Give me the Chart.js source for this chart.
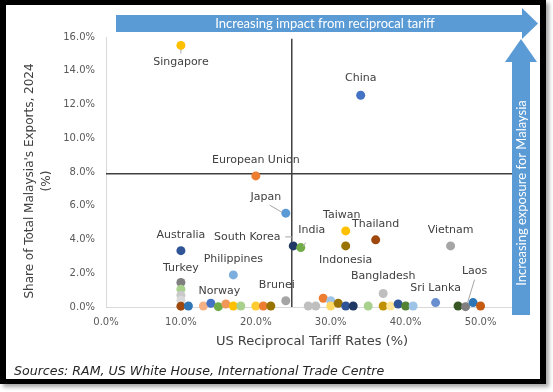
<!DOCTYPE html>
<html>
<head>
<meta charset="utf-8">
<script src="https://cdn.jsdelivr.net/npm/chart.js@4.4.1/dist/chart.umd.min.js"></script>
<style>
  html, body { margin: 0; padding: 0; background: #fff; }
  canvas { display: block; }
</style>
</head>
<body>
<canvas id="chart" width="553" height="392"></canvas>
<script>
// values
const countries = [
  "Singapore", "China", "European Union", "Japan", "Australia", "South Korea", "India",
  "Taiwan", "Indonesia", "Thailand", "Vietnam", "Philippines", "Turkey",
  "", "", "", "", "", "", "", "Norway", "", "", "", "", "", "", "Brunei",
  "", "", "", "", "", "", "", "", "", "Bangladesh", "", "", "", "", "", "Sri Lanka",
  "", "Laos", "", ""
];
const tariffRates = [
  10, 34, 20, 24, 10, 25, 26,
  32, 32, 36, 46, 17, 10,
  10, 10, 10, 10, 11, 13, 14, 15, 16, 17, 18, 20, 21, 22, 24,
  27, 28, 29, 30, 30, 31, 32, 33, 35, 37, 37, 38, 39, 40, 41, 44,
  47, 48, 49, 50
];
const exportShares = [
  15.5, 12.55, 7.77, 5.56, 3.34, 3.62, 3.52,
  4.51, 3.62, 3.98, 3.62, 1.9, 1.45,
  1.05, 0.7, 0.4, 0.05, 0.06, 0.06, 0.22, 0.02, 0.18, 0.06, 0.06, 0.06, 0.06, 0.06, 0.37,
  0.06, 0.06, 0.52, 0.37, 0.06, 0.22, 0.06, 0.06, 0.06, 0.8, 0.06, 0.06, 0.18, 0.06, 0.06, 0.26,
  0.06, 0.02, 0.26, 0.06
];
const pointColors = [
  "#FFC000", "#4472C4", "#ED7D31", "#5B9BD5", "#2F5597", "#203864", "#70AD47",
  "#FFC000", "#997300", "#9E480E", "#A5A5A5", "#7CAFDD", "#7F7F7F",
  "#A9D18E", "#C9C9C9", "#D9D9D9", "#9E480E", "#2E75B6", "#F4B183", "#4472C4", "#70AD47",
  "#F1975A", "#FFC000", "#A9D18E", "#FFCD33", "#ED7D31", "#997300", "#A5A5A5",
  "#BFBFBF", "#BFBFBF", "#ED7D31", "#9DC3E6", "#FFD966", "#997300", "#2F5597", "#203864",
  "#A9D18E", "#BFBFBF", "#BF9000", "#FFE699", "#2F5597", "#548235", "#9DC3E6", "#698ED0",
  "#375623", "#7F7F7F", "#2E75B6", "#C55A11"
];
const xTicks = [0, 10, 20, 30, 40, 50];
const refTariff = [24.8, 24.8];
const refTariffSpan = [0, 15.9];
const refShare = [7.9, 7.9];
const refShareSpan = [0, 55];
const yTitle = ["Share of Total Malaysia's Exports, 2024", "(%)"];

// label placement relative to each point (pixels)
const labelOffsets = {
  "Singapore": [0, 17], "China": [0, -17], "European Union": [0, -16], "Japan": [-20, -16],
  "Australia": [0, -15], "South Korea": [-46, -9], "India": [11, -17], "Taiwan": [-4, -16],
  "Thailand": [0, -16], "Vietnam": [0, -16], "Indonesia": [0, 14], "Philippines": [0, -16],
  "Turkey": [0, -14], "Norway": [1, -16], "Brunei": [-9, -16], "Bangladesh": [0, -17],
  "Sri Lanka": [0, -14], "Laos": [9, -36]
};
const leaderLines = {
  "Singapore": [[0, 4], [0, 8]],
  "Japan": [[-16, -8], [-4, -1]],
  "South Korea": [[-8, -9], [-1, -9], [-1, -4]],
  "India": [[5, -5], [2, -1]],
  "Laos": [[9, -27], [2, -4]]
};

const pct = v => v.toFixed(1) + "%";

const decor = {
  id: "decor",
  beforeDraw(chart) {
    const ctx = chart.ctx;
    ctx.save();
    ctx.fillStyle = "#fff";
    ctx.fillRect(0, 0, 553, 392);
    ctx.shadowColor = "rgba(0,0,0,0.35)";
    ctx.shadowBlur = 4;
    ctx.shadowOffsetX = 3;
    ctx.shadowOffsetY = 3;
    ctx.fillStyle = "#000";
    ctx.fillRect(0, 0, 546, 384);
    ctx.restore();
    ctx.fillStyle = "#fff";
    ctx.fillRect(6, 5, 534, 374);
  },
  afterDatasetsDraw(chart) {
    const ctx = chart.ctx;
    const meta = chart.getDatasetMeta(0);
    ctx.save();
    ctx.font = "11px 'DejaVu Sans'";
    ctx.textAlign = "center";
    ctx.textBaseline = "middle";
    countries.forEach((name, i) => {
      if (!name) return;
      const p = meta.data[i];
      const lead = leaderLines[name];
      if (lead) {
        ctx.strokeStyle = "#A6A6A6";
        ctx.lineWidth = 1;
        ctx.beginPath();
        lead.forEach(([dx, dy], k) => {
          if (k === 0) ctx.moveTo(p.x + dx, p.y + dy);
          else ctx.lineTo(p.x + dx, p.y + dy);
        });
        ctx.stroke();
      }
      const [ox, oy] = labelOffsets[name] || [0, -15];
      ctx.fillStyle = "#404040";
      ctx.fillText(name, p.x + ox, p.y + oy);
    });
    ctx.restore();

    // y axis title, two centred lines
    ctx.save();
    ctx.fillStyle = "#404040";
    ctx.font = "12px 'DejaVu Sans'";
    ctx.textAlign = "center";
    ctx.textBaseline = "middle";
    ctx.translate(30, 181);
    ctx.rotate(-Math.PI / 2);
    ctx.fillText(yTitle[0], 0, 0);
    ctx.fillText(yTitle[1], 0, 17);
    ctx.restore();
  },
  afterDraw(chart) {
    const ctx = chart.ctx;
    ctx.save();
    ctx.fillStyle = "#5B9BD5";
    // vertical arrow
    ctx.fillRect(512, 62, 18, 253);
    ctx.beginPath();
    ctx.moveTo(505, 62); ctx.lineTo(521, 39); ctx.lineTo(537, 62); ctx.closePath();
    ctx.fill();
    // horizontal arrow
    ctx.fillRect(116, 15, 406, 17);
    ctx.beginPath();
    ctx.moveTo(522, 8); ctx.lineTo(538, 23.5); ctx.lineTo(522, 39); ctx.closePath();
    ctx.fill();

    ctx.fillStyle = "#fff";
    ctx.font = "13px Lato";
    ctx.textAlign = "center";
    ctx.textBaseline = "middle";
    ctx.fillText("Increasing impact from reciprocal tariff", 325, 24);
    ctx.translate(521, 193);
    ctx.rotate(-Math.PI / 2);
    ctx.fillText("Increasing exposure for Malaysia", 0, 1);
    ctx.restore();

    ctx.save();
    ctx.fillStyle = "#262626";
    ctx.font = "italic 12.6px 'DejaVu Sans'";
    ctx.textBaseline = "middle";
    ctx.fillText("Sources: RAM, US White House, International Trade Centre", 14, 372);
    ctx.restore();
  }
};

new Chart(document.getElementById("chart"), {
  type: "scatter",
  data: {
    datasets: [
      {
        data: tariffRates.map((x, i) => ({ x: x, y: exportShares[i] })),
        pointBackgroundColor: pointColors,
        pointBorderWidth: 0,
        pointRadius: 4.5,
        pointHoverRadius: 4.5,
        clip: false,
        order: 0
      },
      {
        data: refTariff.map((x, i) => ({ x: x, y: refTariffSpan[i] })),
        showLine: true,
        borderColor: "#404040",
        borderWidth: 1.5,
        pointRadius: 0,
        order: 1
      },
      {
        data: refShareSpan.map((x, i) => ({ x: x, y: refShare[i] })),
        showLine: true,
        borderColor: "#404040",
        borderWidth: 1.5,
        pointRadius: 0,
        order: 1
      }
    ]
  },
  options: {
    responsive: false,
    animation: false,
    layout: { padding: { left: 0, right: 35, top: 37, bottom: 40 } },
    plugins: { legend: { display: false }, tooltip: { enabled: false } },
    scales: {
      x: {
        type: "linear",
        min: 0,
        max: 55,
        afterBuildTicks: s => { s.ticks = xTicks.map(v => ({ value: v })); },
        afterFit: s => { s.height = 45; },
        grid: { display: false, drawTicks: false },
        border: { display: true, color: "#D9D9D9", width: 1 },
        ticks: {
          callback: pct,
          color: "#595959",
          padding: 9,
          maxRotation: 0,
          font: { family: "DejaVu Sans", size: 10 }
        },
        title: {
          display: true,
          text: "US Reciprocal Tariff Rates (%)",
          color: "#404040",
          padding: { top: 0, bottom: 3 },
          font: { family: "DejaVu Sans", size: 13 }
        }
      },
      y: {
        min: 0,
        max: 16,
        afterFit: s => { s.width = 106; },
        grid: { display: false, drawTicks: false },
        border: { display: true, color: "#D9D9D9", width: 1 },
        ticks: {
          stepSize: 2,
          callback: pct,
          color: "#595959",
          padding: 11,
          font: { family: "DejaVu Sans", size: 10 }
        },
        title: { display: false }
      }
    }
  },
  plugins: [decor]
});
</script>
</body>
</html>
